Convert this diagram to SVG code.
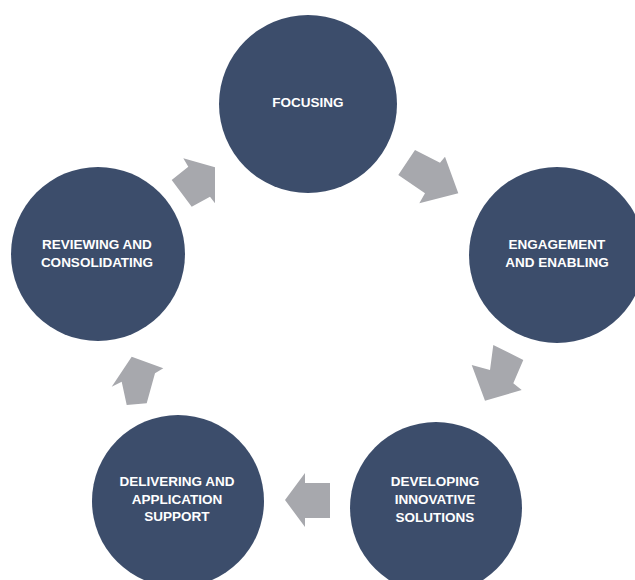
<svg xmlns="http://www.w3.org/2000/svg" width="635" height="580" viewBox="0 0 635 580">
  <style>
    .stage { fill: #3c4d6b; }
    .label { fill: #ffffff; font-family: "Liberation Sans", Arial, sans-serif; font-weight: bold; font-size: 13.5px; text-anchor: middle; }
    .flow { fill: #a7a8ad; }
  </style>
  <rect width="635" height="580" fill="#ffffff"/>

  <g id="connectors">
    <polygon class="flow" points="415,150 440,162.7 445,156.7 458.3,193.3 419.3,203.3 425,193.3 398.3,175"/>
    <polygon class="flow" points="493.3,345 523.3,360 513.3,383.3 521.7,390 485,400.7 471.7,365 490,370"/>
    <polygon class="flow" points="330,483 305,483 305,473 285,500 305,527 305,518 330,518"/>
    <polygon class="flow" points="126.7,405 146.7,403.3 155,373.3 163.3,368.3 131.7,356.7 111.7,386.7 121.7,381.7"/>
    <polygon class="flow" points="171.7,180 188.3,166.7 183.3,158.3 215,167.3 215,203.3 210,196.7 191.7,206.7"/>
  </g>

  <g id="focusing">
    <circle class="stage" cx="308" cy="104" r="89"/>
    <text class="label" x="308" y="107">FOCUSING</text>
  </g>

  <g id="engagement">
    <circle class="stage" cx="557" cy="255" r="88"/>
    <text class="label" x="557" y="249">ENGAGEMENT</text>
    <text class="label" x="557" y="267">AND ENABLING</text>
  </g>

  <g id="developing">
    <circle class="stage" cx="436" cy="508" r="86"/>
    <text class="label" x="435" y="486">DEVELOPING</text>
    <text class="label" x="435" y="504">INNOVATIVE</text>
    <text class="label" x="435" y="522">SOLUTIONS</text>
  </g>

  <g id="delivering">
    <circle class="stage" cx="178" cy="501" r="86"/>
    <text class="label" x="177" y="486">DELIVERING AND</text>
    <text class="label" x="177" y="504">APPLICATION</text>
    <text class="label" x="177" y="521">SUPPORT</text>
  </g>

  <g id="reviewing">
    <circle class="stage" cx="98" cy="254" r="87"/>
    <text class="label" x="97" y="249">REVIEWING AND</text>
    <text class="label" x="97" y="267">CONSOLIDATING</text>
  </g>
</svg>
